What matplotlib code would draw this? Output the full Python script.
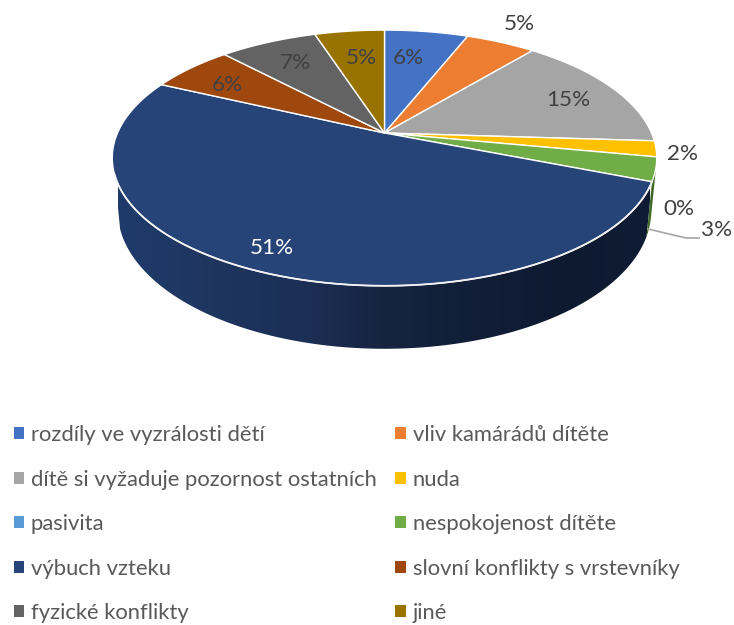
import numpy as np
import matplotlib
matplotlib.use('Agg')
import matplotlib.pyplot as plt
from matplotlib.patches import Patch, Polygon
from matplotlib.colors import LinearSegmentedColormap

plt.rcParams['font.family'] = ['Lato', 'DejaVu Sans']

categories = ['rozdíly ve vyzrálosti dětí', 'vliv kamárádů dítěte',
              'dítě si vyžaduje pozornost ostatních', 'nuda',
              'pasivita', 'nespokojenost dítěte',
              'výbuch vzteku', 'slovní konflikty s vrstevníky',
              'fyzické konflikty', 'jiné']
values = [6, 5, 15, 2, 0, 3, 51, 6, 7, 5]
colors = ['#4472C4', '#ED7D31', '#A5A5A5', '#FFC000', '#5B9BD5',
          '#70AD47', '#264478', '#9E480E', '#636363', '#997300']
label_x = [408, 519, 568, 682, 679, 717, 272, 227, 295, 361]
label_y = [58, 24, 100, 154, 209, 230, 248, 85, 63, 58]

# pie geometry in pixels, apex of the tilted disc
CX, CY = 384.5, 133
A, B, K = 267, 123, 0.195
DEPTH = 50.7
FONT = 15.85


def project(theta, lower=False):
    # circle -> image with a bit of perspective, theta clockwise from the top
    u, v = np.sin(theta), np.cos(theta)
    w = 1 + K * v
    x, y = A * u / w, B * v / w
    if lower:
        return CX + 0.98 * x, CY - y + DEPTH / w
    return CX + x, CY - y


def arc(start, end, lower=False):
    t = np.radians(np.linspace(start, end, 200))
    x, y = project(t, lower)
    return np.column_stack([x, y])


fig = plt.figure(figsize=(7.34, 6.25), dpi=100)
ax = fig.add_axes([0, 0, 1, 1])
ax.set_xlim(0, 734)
ax.set_ylim(625, 0)
ax.axis('off')

edges = np.cumsum([0] + values) * 3.6

# side wall of the big slice, shaded left to right
side_start, side_end = edges[6], 251.3
side = np.vstack([arc(side_start, side_end), arc(side_end, side_start, True)])
stops = [(0.0, '#1f3b6b'), (0.16, '#1e3660'), (0.35, '#1c2f55'), (0.5, '#172441'),
         (0.64, '#121f38'), (0.84, '#0e1a30'), (1.0, '#0f1c33')]
cmap = LinearSegmentedColormap.from_list('side', stops)
img = ax.imshow(np.linspace(0, 1, 256).reshape(1, -1), cmap=cmap, aspect='auto',
                extent=(118, 650, 360, 170), zorder=1)
img.set_clip_path(Polygon(side, transform=ax.transData))
ax.set_xlim(0, 734)
ax.set_ylim(625, 0)

# thin strip of the green slice's wall on the right
strip = np.vstack([arc(104, edges[6]), arc(edges[6], 104, True)])
ax.add_patch(Polygon(strip, closed=True, fc='#3f6b28', ec='none', zorder=1))

# top face
for i, v in enumerate(values):
    if v == 0:
        continue
    pts = np.vstack([[CX, CY], arc(edges[i], edges[i + 1])])
    ax.add_patch(Polygon(pts, closed=True, fc=colors[i], ec='white', lw=1.0,
                         joinstyle='round', zorder=2))

# light rim along the front
rim = arc(edges[6], side_end)
ax.plot(rim[:, 0], rim[:, 1], color='#f2f2f2', lw=1.3, zorder=3)

# leader line for the 3 % label
ax.plot([648, 686, 699], [229, 238, 238], color='#a6a6a6', lw=1.2, zorder=3)

for i, v in enumerate(values):
    ax.text(label_x[i], label_y[i], f'{v}%', ha='center', va='center',
            fontsize=16.2, color='white' if i == 6 else '#404040', zorder=4)

# legend fills column by column in matplotlib, so reorder to read row by row
order = [0, 2, 4, 6, 8, 1, 3, 5, 7, 9]
handles = [Patch(fc=colors[i], ec='none', label=categories[i]) for i in order]
leg = ax.legend(handles=handles, ncols=2, loc='upper left',
                bbox_to_anchor=(13.5, 425), bbox_transform=ax.transData,
                frameon=False, fontsize=FONT, labelcolor='#595959',
                handlelength=0.46, handleheight=0.46, handletextpad=0.33,
                labelspacing=1.115, columnspacing=0.85, borderpad=0, borderaxespad=0)

fig.savefig('out.png', dpi=100)
